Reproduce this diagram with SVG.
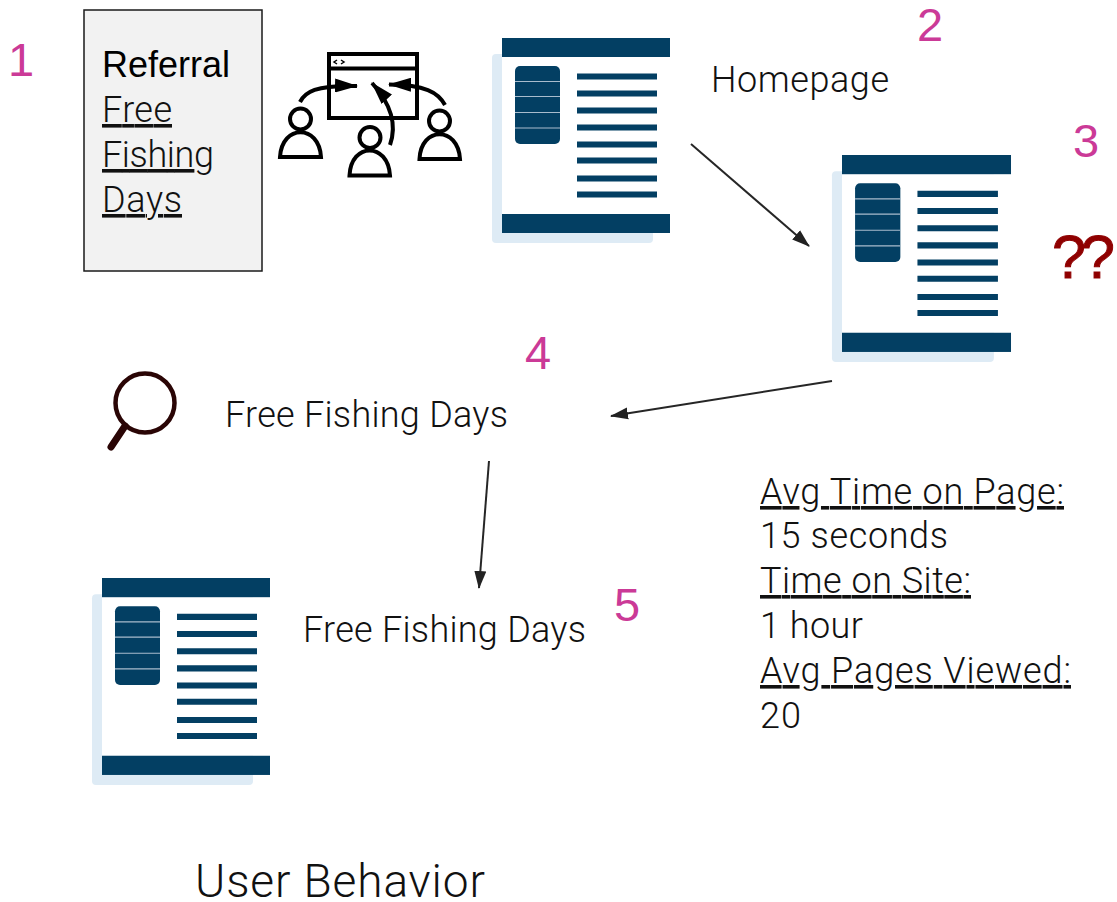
<svg xmlns="http://www.w3.org/2000/svg" width="1117" height="902" viewBox="0 0 1117 902">
<style>
text{font-family:Roboto,"Liberation Sans",Arial,sans-serif;fill:#111;font-weight:300}
.t{font-size:36px}
.u{text-decoration:underline;text-decoration-thickness:1.5px;text-decoration-skip-ink:none}
.n{font-family:"Liberation Sans",Arial,sans-serif;font-size:47px;fill:#cb3a97;font-weight:400}
.p{fill:#033f63}
.i{fill:none;stroke:#000;stroke-width:4}
.c{stroke:#262626;stroke-width:2;fill:none;marker-end:url(#a)}
</style>
<defs>
<marker id="a" markerUnits="userSpaceOnUse" markerWidth="18" markerHeight="14" refX="17" refY="7" orient="auto"><path d="M0 1L18 7L0 13Z" fill="#222"/></marker>
<marker id="b" markerUnits="userSpaceOnUse" markerWidth="24" markerHeight="14" refX="22" refY="7" orient="auto"><path d="M0 0L23 7L0 14Z" fill="#000"/></marker>
<symbol id="page" overflow="visible">
<rect x="492" y="54" width="161" height="189" rx="4" fill="#deebf5"/>
<rect x="502" y="57" width="168" height="157" fill="#fff"/>
<rect class="p" x="502" y="38" width="168" height="19"/>
<rect class="p" x="502" y="214" width="168" height="19"/>
<rect class="p" x="515" y="66" width="45" height="78" rx="5"/>
<path d="M515 81.500H560M515 96.500H560M515 112.500H560M515 128H560" stroke="#a9bccd" stroke-width="1.200"/>
<path class="p" d="M577 73.500h80v6h-80zM577 90.500h80v6h-80zM577 107.500h80v6h-80zM577 124.500h80v6h-80zM577 141.500h80v6h-80zM577 157.500h80v6h-80zM577 175.500h80v6h-80zM577 191.500h80v6h-80z"/>
</symbol>
</defs>
<g id="referral">
<rect x="84" y="10" width="178" height="261" fill="#f2f2f2" stroke="#1a1a1a" stroke-width="1.500"/>
<text class="t" x="102" y="77" textLength="128" style="fill:#000;font-weight:400;font-family:'Liberation Sans',Arial,sans-serif">Referral</text>
<text class="t u" x="102" y="122" textLength="70">Free</text>
<text class="t u" x="102" y="167" textLength="112">Fishing</text>
<text class="t u" x="102" y="212" textLength="80">Days</text>
</g>
<g id="num1"><text class="n" x="8" y="76">1</text></g>
<g id="num2"><text class="n" x="917" y="41">2</text></g>
<g id="num3"><text class="n" x="1073" y="157">3</text></g>
<g id="num4"><text class="n" x="525" y="369">4</text></g>
<g id="num5"><text class="n" x="614" y="621">5</text></g>
<g id="traffic-icon">
<path class="i" d="M329 54H417V118H329ZM330 68.500H416" stroke-width="3.500"/>
<path d="M337 60l-3 2 3 2M341 60l3 2-3 2" fill="none" stroke="#000" stroke-width="1.500"/>
<path class="i" d="M300 102C305 92 315 85 357 86" marker-end="url(#b)"/>
<path class="i" d="M445 105C438 92 425 85 389 84.500" marker-end="url(#b)"/>
<path class="i" d="M390 145C397 125 392 105 372 83" marker-end="url(#b)"/>
<g id="u1"><circle cx="300.500" cy="119" r="10.500" class="i"/><path class="i" d="M280 157C282 124 319 124 321 157Z"/></g>
<g id="u2"><circle cx="370" cy="137.500" r="10.500" class="i"/><path class="i" d="M349.500 175.500C351 142 388 142 390 175.500Z"/></g>
<g id="u3"><circle cx="439.500" cy="121" r="10.500" class="i"/><path class="i" d="M419.500 159C421 126 458 126 460 159Z"/></g>
</g>
<g id="page-home"><use href="#page"/></g>
<g id="label-home"><text class="t" x="711" y="92" textLength="178">Homepage</text></g>
<g id="page-mid"><use href="#page" transform="translate(842 155) scale(1.006 1.01) translate(-502 -38)"/></g>
<g id="qq"><text x="1052" y="278" textLength="63" style="font-family:'Liberation Sans',Arial,sans-serif;font-size:61px;fill:#8f0000;stroke:#8f0000;stroke-width:1;font-weight:400">??</text></g>
<g id="search-icon">
<circle cx="145" cy="403" r="29.500" fill="none" stroke="#2a0505" stroke-width="4.500"/>
<path d="M125 426L111 447" stroke="#2a0505" stroke-width="7" stroke-linecap="round"/>
</g>
<g id="label-search"><text class="t" x="225" y="427" textLength="283">Free Fishing Days</text></g>
<g id="page-result"><use href="#page" transform="translate(102 578) scale(1 1.01) translate(-502 -38)"/></g>
<g id="label-result"><text class="t" x="303" y="642" textLength="283">Free Fishing Days</text></g>
<g id="stats">
<text class="t u" x="760" y="504" textLength="304">Avg Time on Page:</text>
<text class="t" x="760" y="548" textLength="188">15 seconds</text>
<text class="t u" x="760" y="593" textLength="211">Time on Site:</text>
<text class="t" x="760" y="638" textLength="103">1 hour</text>
<text class="t u" x="760" y="683" textLength="311">Avg Pages Viewed:</text>
<text class="t" x="760" y="728" textLength="41">20</text>
</g>
<g id="title"><text x="195" y="897" textLength="290" style="font-size:46px">User Behavior</text></g>
<g id="connectors">
<path class="c" d="M691 144L809 246"/>
<path class="c" d="M832 381L611 416"/>
<path class="c" d="M489 461L479 588"/>
</g>
</svg>
